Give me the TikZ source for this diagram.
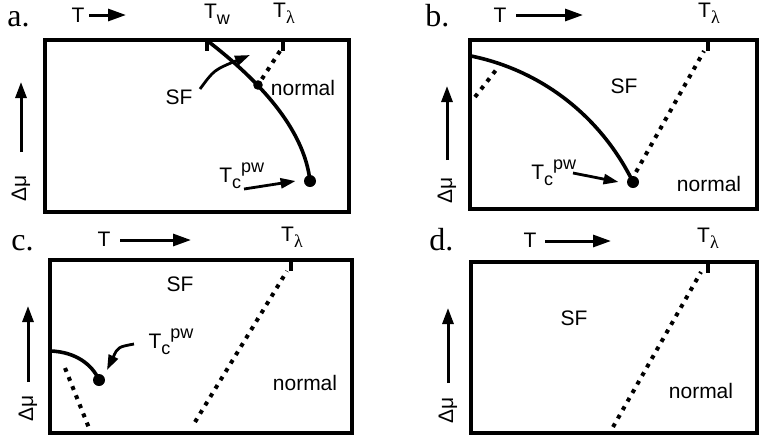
\documentclass[tikz,border=0pt]{standalone}
\usepackage{fontspec}
\setmainfont{Liberation Serif}
\setsansfont{Liberation Sans}
\usetikzlibrary{arrows.meta}

\newcommand\lowix[1]{\raisebox{-0.5ex}{\fontsize{9}{10}\selectfont#1}}
\newcommand\upix[1]{\raisebox{0.9ex}{\fontsize{9}{10}\selectfont#1}}

\begin{document}
\begin{tikzpicture}[x=0.5pt,y=-0.5pt,
  every node/.style={font=\sffamily\fontsize{10.5}{12}\selectfont,inner sep=0pt},
  panel/.style={line width=2.2pt},
  bound/.style={line width=1.8pt},
  trans/.style={line width=2pt,dash pattern=on 2pt off 2.9pt},
  tick/.style={line width=1.8pt},
  smalldot/.style={circle,fill,inner sep=0pt,minimum size=4.8pt},
  bigdot/.style={circle,fill,inner sep=0pt,minimum size=6pt},
  tag/.style={font=\rmfamily\fontsize{16}{18}\selectfont},
  taxis/.style={line width=1.5pt,-{Triangle[length=9pt,width=6pt]}},
  muaxis/.style={line width=1.5pt,-{Triangle[length=8pt,width=5.5pt]}},
  ptr/.style={line width=1.4pt,-{Triangle[length=7.5pt,width=5pt]}}]
  \useasboundingbox (0,0) rectangle (761,436);

  % a.
  \node[tag,anchor=base west] (la) at (7,26) {a.};
  \node (aT) at (78,15) {T};
  \coordinate (aTs) at (89,15);
  \coordinate (aTe) at (126,15);
  \draw[taxis] (aTs) -- (aTe);
  \node (aTw) at (217,14) {T\lowix{w}};
  \node (aTl) at (284,13) {T\lowix{\rmfamily λ}};
  \draw[panel] (45,40) rectangle (349,212);
  \draw[tick] (207,40) -- (207,51);
  \draw[tick] (283,40) -- (283,51);
  \coordinate (aw) at (209,42);
  \node[smalldot] (atp) at (258,85) {};
  \node[bigdot] (acp) at (310,181) {};
  \draw[bound] (aw) .. controls (258,80) and (304,128) .. (acp.center);
  \draw[trans] (280,51) -- (atp);
  \node (anor) at (303,88) {normal};
  \node (aSF) at (179,97) {SF};
  \coordinate (aSFs) at (200,89);
  \coordinate (aSFe) at (250,55);
  \draw[ptr] (aSFs) .. controls (214,70) .. (aSFe);
  \node[anchor=west] (aTc) at (219,176) {T\lowix{c}\upix{pw}};
  \coordinate (aTcs) at (244,189);
  \draw[ptr] (aTcs) -- ([xshift=-4pt]acp.west);
  \coordinate (amus) at (21,152);
  \coordinate (amue) at (21,82);
  \draw[muaxis] (amus) -- (amue);
  \node[rotate=90] (amu) at (21,188) {Δμ};

  % b.
  \node[tag,anchor=base west] (lb) at (425,26) {b.};
  \node (bT) at (500,15) {T};
  \coordinate (bTs) at (516,15);
  \coordinate (bTe) at (583,15);
  \draw[taxis] (bTs) -- (bTe);
  \node (bTl) at (709,13) {T\lowix{\rmfamily λ}};
  \draw[panel] (470,40) rectangle (757,209);
  \draw[tick] (708,40) -- (708,51);
  \coordinate (bw) at (471,56);
  \node[bigdot] (bcp) at (633,182) {};
  \draw[bound] (bw) .. controls (540,70) and (600,115) .. (bcp.center);
  \draw[trans] (475,97) -- (496,70);
  \draw[trans] (636,172) -- (704,51);
  \node (bSF) at (624,86) {SF};
  \node (bnor) at (709,184) {normal};
  \node[anchor=west] (bTc) at (531,173) {T\lowix{c}\upix{pw}};
  \coordinate (bTcs) at (573,173);
  \draw[ptr] (bTcs) -- ([xshift=-4pt]bcp.west);
  \coordinate (bmus) at (447,160);
  \coordinate (bmue) at (447,86);
  \draw[muaxis] (bmus) -- (bmue);
  \node[rotate=90] (bmu) at (447,190) {Δμ};

  % c.
  \node[tag,anchor=base west] (lc) at (11,250) {c.};
  \node (cT) at (104,239) {T};
  \coordinate (cTs) at (120,240);
  \coordinate (cTe) at (191,240);
  \draw[taxis] (cTs) -- (cTe);
  \node (cTl) at (292,237) {T\lowix{\rmfamily λ}};
  \draw[panel] (50,260) rectangle (352,433);
  \draw[tick] (291,260) -- (291,271);
  \coordinate (cw) at (51,351);
  \node[bigdot] (ccp) at (99,380) {};
  \draw[bound] (cw) .. controls (75,352) and (92,364) .. (ccp.center);
  \draw[trans] (65,368) -- (89,428);
  \draw[trans] (195,422) -- (287,271);
  \node (cSF) at (180,284) {SF};
  \node (cnor) at (305,383) {normal};
  \node (cTc) at (171,342) {T\lowix{c}\upix{pw}};
  \coordinate (cTcs) at (134,344);
  \draw[ptr] (cTcs) .. controls (118,347) .. (107,370);
  \coordinate (cmus) at (28,382);
  \coordinate (cmue) at (28,306);
  \draw[muaxis] (cmus) -- (cmue);
  \node[rotate=90] (cmu) at (28,408) {Δμ};

  % d.
  \node[tag,anchor=base west] (ld) at (429,250) {d.};
  \node (dT) at (530,240) {T};
  \coordinate (dTs) at (545,241);
  \coordinate (dTe) at (611,241);
  \draw[taxis] (dTs) -- (dTe);
  \node (dTl) at (708,238) {T\lowix{\rmfamily λ}};
  \draw[panel] (471,262) rectangle (757,433);
  \draw[tick] (708,262) -- (708,273);
  \draw[trans] (613,427) -- (701,272);
  \node (dSF) at (574,318) {SF};
  \node (dnor) at (701,391) {normal};
  \coordinate (dmus) at (448,383);
  \coordinate (dmue) at (448,308);
  \draw[muaxis] (dmus) -- (dmue);
  \node[rotate=90] (dmu) at (448,410) {Δμ};
\end{tikzpicture}
\end{document}
